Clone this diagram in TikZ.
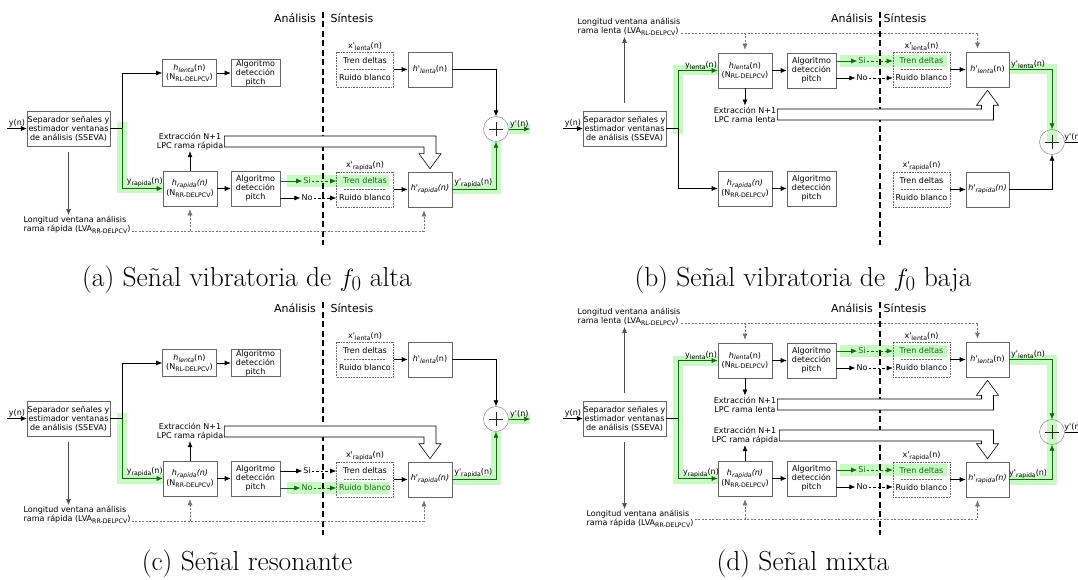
\documentclass[tikz,border=0pt]{standalone}
\usepackage{fontspec}
\usetikzlibrary{arrows.meta,calc,positioning}
\newfontfamily\dejavu{DejaVu Sans}
\definecolor{hlgreen}{RGB}{200,250,195}
\definecolor{dkgreen}{RGB}{25,100,25}
\newcommand\dv{\dejavu\fontsize{8}{9}\selectfont}
\newcommand\subidx[1]{\raisebox{-0.45ex}{\fontsize{6.2}{7}\selectfont #1}}
% hollow L-shaped arrow: from, to, 1 = down into target / -1 = up into target
\newcommand\fatarrow[3]{%
  \coordinate (fa-c) at (#1 -| #2);
  \draw[fat] ($(#1)+(0,{-5.5*(#3)})$) -- ($(fa-c)+(6,{-5.5*(#3)})$)
    -- ($(#2)+(6,{-18*(#3)})$) -- ($(#2)+(11,{-18*(#3)})$)
    -- ($(#2)+(0,{-3*(#3)})$) -- ($(#2)+(-11,{-18*(#3)})$)
    -- ($(#2)+(-6,{-18*(#3)})$) -- ($(fa-c)+(-6,{5.5*(#3)})$)
    -- ($(#1)+(0,{5.5*(#3)})$) -- cycle;}
\pgfdeclarelayer{bg}
\pgfsetlayers{bg,main}

\begin{document}
\begin{tikzpicture}[x=1pt, y=-1pt,
  every node/.style={font=\dv, inner sep=1pt, align=center},
  blk/.style={draw=black!60, line width=0.6pt, minimum width=54pt,
    minimum height=35pt, inner sep=0.5pt},
  src/.style={blk, densely dotted, minimum width=57pt,
    path picture={\draw[solid, dash pattern=on 2pt off 1pt, line width=0.6pt]
      ([xshift=-21pt]path picture bounding box.center) --
      ([xshift=21pt]path picture bounding box.center);}},
  sumnode/.style={circle, draw=black!55, minimum size=25pt, inner sep=0pt,
    path picture={\draw[black!85, line width=0.8pt]
      ([xshift=-7pt]path picture bounding box.center) --
      ([xshift=7pt]path picture bounding box.center)
      ([yshift=-7pt]path picture bounding box.center) --
      ([yshift=7pt]path picture bounding box.center);}},
  arr/.style={-{Latex[length=6pt,width=5pt]}, line width=0.6pt},
  dsh/.style={dash pattern=on 2.5pt off 2pt},
  lva/.style={arr, black!55, dash pattern=on 2pt off 1.5pt, shorten >=3pt},
  hl/.style={hlgreen, line width=10pt, line join=miter},
  fat/.style={line width=0.6pt, fill=white, line join=miter},
  split/.style={line width=1.6pt, dash pattern=on 6pt off 3.5pt},
  tag/.style={font=\dejavu\fontsize{11}{13}\selectfont},
  subcap/.style={font=\fontsize{27.5}{32}\selectfont, anchor=base}]
\useasboundingbox (0,0) rectangle (1078,580);

% (a) and (c): rapid branch only, green on Si or No
\foreach \p/\dy/\ca/\cb/\g in {a/0/dkgreen/black/si, c/290/black/dkgreen/no}{
  \node[tag] (\p-ana) at (295,18+\dy) {Análisis};
  \node[tag] (\p-sin) at (352,18+\dy) {Síntesis};
  \draw[split] (323,12+\dy) -- (323,245+\dy);
  \coordinate (\p-in) at (7,128.5+\dy);
  \node[blk, minimum width=81pt] (\p-sep) at (68.5,128.5+\dy)
    {Separador señales y\\estimador ventanas\\de análisis (SSEVA)};
  \coordinate (\p-br) at (122,128.5+\dy);
  \node[blk, minimum height=27pt] (\p-hl) at (189.5,73+\dy)
    {\textit{h}\subidx{\textit{lenta}}(n)\\(N\subidx{RL-DELPCV})};
  \node[blk, minimum width=49pt, minimum height=27pt] (\p-al) at (255.5,73+\dy)
    {Algoritmo\\detección\\pitch};
  \node[blk] (\p-hr) at (190,188.5+\dy)
    {\textit{h}\subidx{\textit{rapida}}\textit{(n)}\\(N\subidx{RR-DELPCV})};
  \node[blk, minimum width=49pt] (\p-ar) at (255.5,188.5+\dy)
    {Algoritmo\\detección\\pitch};
  \node (\p-lpc) at (190,141.5+\dy) {Extracción N+1\\LPC rama rápida};
  \node[src] (\p-xl) at (365,69.5+\dy) {Tren deltas\\[8pt]Ruido blanco};
  \node[src] (\p-xr) at (365,189.5+\dy)
    {\textcolor{\ca}{Tren deltas}\\[8pt]\textcolor{\cb}{Ruido blanco}};
  \node[above=0pt of \p-xl] (\p-xll) {x'\subidx{lenta}(n)};
  \node[above=0pt of \p-xr] (\p-xrl) {x'\subidx{rapida}(n)};
  \node[blk, minimum width=44pt] (\p-hpl) at (430,69.5+\dy)
    {\textit{h'}\subidx{\textit{lenta}}(n)};
  \node[blk, minimum width=44pt] (\p-hpr) at (430,189.5+\dy)
    {\textit{h'}\subidx{\textit{rapida}}\textit{(n)}};
  \node[sumnode] (\p-sum) at (496,129+\dy) {};
  \coordinate (\p-out) at (530,129+\dy);
  \node (\p-si) at (307,181+\dy) {\textcolor{\ca}{Si}};
  \node (\p-no) at (307,198+\dy) {\textcolor{\cb}{No}};
  \node[align=left] (\p-lva) at (77,225+\dy)
    {Longitud ventana análisis\\rama rápida (LVA\subidx{RR-DELPCV})};
  \coordinate (\p-lvr) at ([yshift=4pt]\p-lva.south east);

  \draw[arr] (\p-in) -- node[above] (\p-yn) {y(n)} (\p-sep);
  \draw[line width=0.6pt] (\p-sep) -- (\p-br);
  \draw[arr] (\p-br) |- (\p-hl);
  \draw[arr, dkgreen] (\p-br) |- node[pos=0.78, above, text=black] (\p-yr)
    {y\subidx{rapida}(n)} (\p-hr);
  \draw[arr] (\p-hl) -- (\p-al);
  \draw[arr] (\p-hr) -- (\p-ar);
  \draw[arr] (\p-hr) -- (\p-lpc);
  \draw[arr, \ca] (\p-ar.east |- \p-si) -- (\p-si);
  \draw[arr, \ca, dsh] (\p-si) -- (\p-xr.west |- \p-si);
  \draw[arr, \cb] (\p-ar.east |- \p-no) -- (\p-no);
  \draw[arr, \cb, dsh] (\p-no) -- (\p-xr.west |- \p-no);
  \draw[arr] (\p-xl) -- (\p-hpl);
  \draw[arr] (\p-xr) -- (\p-hpr);
  \draw[arr] (\p-hpl) -| (\p-sum);
  \draw[arr, dkgreen] (\p-hpr) -| node[pos=0.24, above, text=black] (\p-ypr)
    {y'\subidx{rapida}(n)} (\p-sum);
  \draw[arr, dkgreen] (\p-sum) -- node[above, text=black] (\p-yo) {y'(n)} (\p-out);
  \draw[arr, black!70, shorten <=6pt] (\p-sep.south) -- (\p-sep.south |- \p-lva.north);
  \draw[lva] (\p-lvr) -| ([xshift=-6pt]\p-hpr.south);
  \draw[lva] (\p-hr.south |- \p-lvr) -- (\p-hr.south);
  \fatarrow{\p-lpc.east}{\p-hpr.north}{1}

  \begin{pgfonlayer}{bg}
    \draw[hl] ([yshift=6pt]\p-br) |- (\p-hr.west);
    \draw[hl, line width=12pt] ($(\p-ar.east |- \p-\g)+(7,0)$) -- ($(\p-xr.east |- \p-\g)+(-5,0)$);
    \draw[hl] (\p-hpr) -| (\p-sum);
    \draw[hl] (\p-sum) -- (\p-out);
  \end{pgfonlayer}
}

% (b) and (d): slow branch with its own LVA and LPC
\foreach \p/\dy/\cq in {b/0/black, d/290/dkgreen}{
  \node[tag] (\p-ana) at (852,18+\dy) {Análisis};
  \node[tag] (\p-sin) at (905,18+\dy) {Síntesis};
  \draw[split] (880,12+\dy) -- (880,245+\dy);
  \coordinate (\p-in) at (563,128.5+\dy);
  \node[blk, minimum width=81pt] (\p-sep) at (624.5,128.5+\dy)
    {Separador señales y\\estimador ventanas\\de análisis (SSEVA)};
  \coordinate (\p-br) at (678,128.5+\dy);
  \node[blk] (\p-hl) at (745,70.5+\dy)
    {\textit{h}\subidx{\textit{lenta}}(n)\\(N\subidx{RL-DELPCV})};
  \node[blk, minimum width=49pt] (\p-al) at (811.5,70.5+\dy) {Algoritmo\\detección\\pitch};
  \node[blk] (\p-hr) at (745,188.5+\dy)
    {\textit{h}\subidx{\textit{rapida}}\textit{(n)}\\(N\subidx{RR-DELPCV})};
  \node[blk, minimum width=49pt] (\p-ar) at (811.5,188.5+\dy) {Algoritmo\\detección\\pitch};
  \node (\p-lpl) at (745,114.5+\dy) {Extracción N+1\\LPC rama lenta};
  \node[align=left] (\p-lvl) at (629,27+\dy)
    {Longitud ventana análisis\\rama lenta (LVA\subidx{RL-DELPCV})};
  \coordinate (\p-lvc) at ([yshift=4pt]\p-lvl.south east);
  \node[src] (\p-xl) at (921.5,69.5+\dy) {\textcolor{dkgreen}{Tren deltas}\\[8pt]Ruido blanco};
  \node[src] (\p-xr) at (921.5,189.5+\dy) {\textcolor{\cq}{Tren deltas}\\[8pt]Ruido blanco};
  \node[above=0pt of \p-xl] (\p-xll) {x'\subidx{lenta}(n)};
  \node[above=0pt of \p-xr] (\p-xrl) {x'\subidx{rapida}(n)};
  \node[blk, minimum width=43pt] (\p-hpl) at (987.5,69.5+\dy)
    {\textit{h'}\subidx{\textit{lenta}}(n)};
  \node[blk, minimum width=43pt] (\p-hpr) at (987.5,189.5+\dy)
    {\textit{h'}\subidx{\textit{rapida}}\textit{(n)}};
  \node[sumnode] (\p-sum) at (1052,142+\dy) {};
  \coordinate (\p-out) at (1090,142+\dy);
  \node (\p-si) at (862,61+\dy) {\textcolor{dkgreen}{Si}};
  \node (\p-no) at (862,78+\dy) {No};

  \draw[arr] (\p-in) -- node[above] (\p-yn) {y(n)} (\p-sep);
  \draw[line width=0.6pt] (\p-sep) -- (\p-br);
  \draw[arr, dkgreen] (\p-br) |- node[pos=0.79, above, text=black] (\p-yl)
    {y\subidx{lenta}(n)} (\p-hl);
  \draw[arr, \cq] (\p-br) |- (\p-hr);
  \draw[arr] (\p-hl) -- (\p-al);
  \draw[arr] (\p-hr) -- (\p-ar);
  \draw[arr] (\p-hl) -- (\p-lpl);
  \draw[arr, black!70, shorten <=8pt] (\p-sep.north) -- (\p-sep.north |- \p-lvl.south);
  \draw[lva] (\p-lvc) -| ([xshift=-10pt]\p-hpl.north);
  \draw[lva] (\p-hl.north |- \p-lvc) -- (\p-hl.north);
  \draw[arr, dkgreen] (\p-al.east |- \p-si) -- (\p-si);
  \draw[arr, dkgreen, dsh] (\p-si) -- (\p-xl.west |- \p-si);
  \draw[arr] (\p-al.east |- \p-no) -- (\p-no);
  \draw[arr, dsh] (\p-no) -- (\p-xl.west |- \p-no);
  \draw[arr] (\p-xl) -- (\p-hpl);
  \draw[arr] (\p-xr) -- (\p-hpr);
  \draw[arr, dkgreen] (\p-hpl) -| node[pos=0.22, above, text=black] (\p-ypl)
    {y'\subidx{lenta}(n)} (\p-sum);
  \draw[arr, \cq] (\p-hpr) -| (\p-sum);
  \draw[arr] (\p-sum) -- node[pos=0.35, above] (\p-yo) {y'(n)} (\p-out);
  \fatarrow{\p-lpl.east}{\p-hpl.south}{-1}

  \begin{pgfonlayer}{bg}
    \draw[hl] ([yshift=-6pt]\p-br) |- (\p-hl.west);
    \draw[hl, line width=12pt] ($(\p-al.east |- \p-si)+(4,0)$) -- ($(\p-xl.east |- \p-si)+(-3,0)$);
    \draw[hl] (\p-hpl) -| (\p-sum.center);
  \end{pgfonlayer}
}

% (d) only: rapid branch extras
\node (d-lpr) at (745,435.5) {Extracción N+1\\LPC rama rápida};
\node[align=left] (d-lvr) at (640,519)
  {Longitud ventana análisis\\rama rápida (LVA\subidx{RR-DELPCV})};
\coordinate (d-lvq) at (d-lvr.east);
\node (d-sir) at (862,470) {\textcolor{dkgreen}{Si}};
\node (d-nor) at (862,487) {No};
\path (d-br) |- node[pos=0.79, above] (d-yr) {y\subidx{rapida}(n)} (d-hr);
\path (d-hpr) -| node[pos=0.22, above] (d-ypr) {y'\subidx{rapida}(n)} (d-sum);
\draw[arr] (d-hr) -- (d-lpr);
\fatarrow{d-lpr.east}{d-hpr.north}{1}
\draw[arr, black!70, shorten <=6pt] (d-sep.south) -- (d-sep.south |- d-lvr.north);
\draw[lva] (d-lvq) -| ([xshift=-10pt]d-hpr.south);
\draw[lva] (d-hr.south |- d-lvq) -- (d-hr.south);
\draw[arr, dkgreen] (d-ar.east |- d-sir) -- (d-sir);
\draw[arr, dkgreen, dsh] (d-sir) -- (d-xr.west |- d-sir);
\draw[arr] (d-ar.east |- d-nor) -- (d-nor);
\draw[arr, dsh] (d-nor) -- (d-xr.west |- d-nor);
\begin{pgfonlayer}{bg}
  \draw[hl] ([yshift=6pt]d-br) |- (d-hr.west);
  \draw[hl, line width=12pt] ($(d-ar.east |- d-sir)+(4,0)$) -- ($(d-xr.east |- d-sir)+(-3,0)$);
  \draw[hl] (d-hpr) -| (d-sum.center);
\end{pgfonlayer}

% captions
\node[subcap] (a-cap) at (247,286) {(a) Señal vibratoria de $f_0$ alta};
\node[subcap] (b-cap) at (803,286) {(b) Señal vibratoria de $f_0$ baja};
\node[subcap] (c-cap) at (247,570) {(c) Señal resonante};
\node[subcap] (d-cap) at (803,570) {(d) Señal mixta};
\end{tikzpicture}
\end{document}
